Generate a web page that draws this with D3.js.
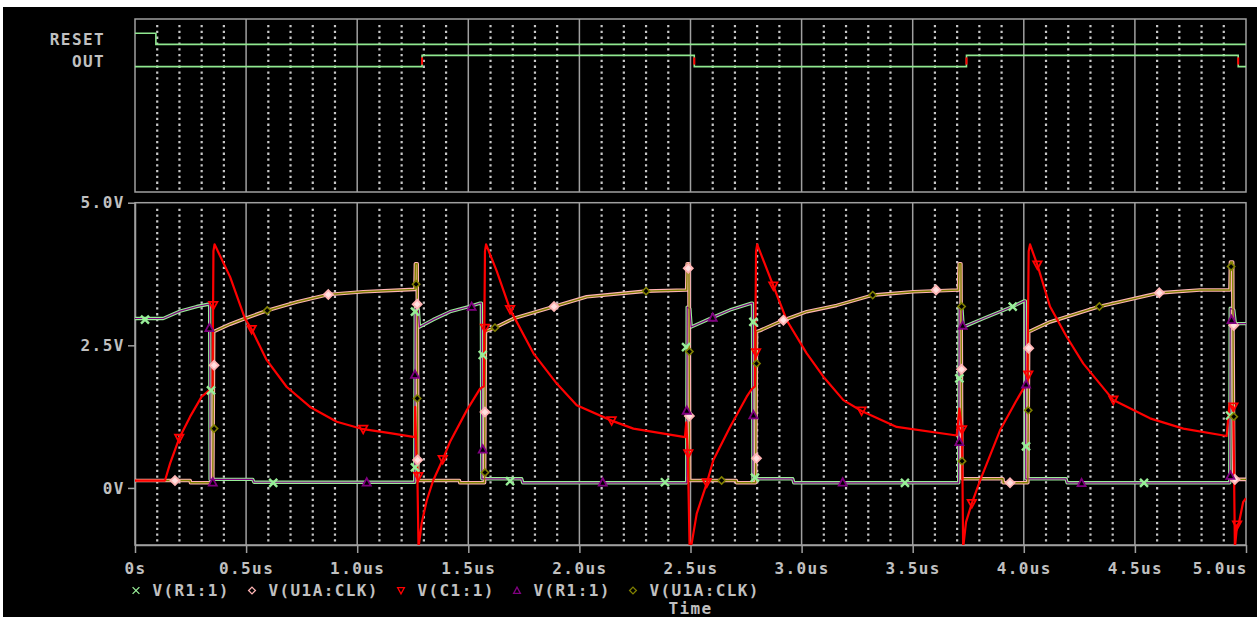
<!DOCTYPE html>
<html><head><meta charset="utf-8">
<script src="https://cdn.jsdelivr.net/npm/d3@7"></script>
<style>
html,body{margin:0;padding:0;background:#fff;}
svg{display:block;}
text{font-family:"DejaVu Sans Mono",monospace;font-weight:bold;font-size:16px;fill:#c0c0c0;letter-spacing:1.4px;}
</style></head><body>
<svg id="c" width="1257" height="617"></svg>
<script>
// ---------------- DATA ----------------
const xTicks = [0, 0.5, 1, 1.5, 2, 2.5, 3, 3.5, 4, 4.5, 5];           // microseconds
const xTickLabels = ["0s","0.5us","1.0us","1.5us","2.0us","2.5us","3.0us","3.5us","4.0us","4.5us","5.0us"];
const yTicks = [0, 2.5, 5];
const yTickLabels = ["0V","2.5V","5.0V"];
const xAxisTitle = "Time";

const digitalNames = ["RESET", "OUT"];
const resetSteps = [[0, 1], [0.094, 0], [5, 0]];
const outSteps = [[0, 0], [1.292, 1], [2.517, 0], [3.742, 1], [4.965, 0], [5, 0]];
const outEdges = [1.292, 2.517, 3.742, 4.965];

const legendLabels = ["V(R1:1)", "V(U1A:CLK)", "V(C1:1)", "V(R1:1)", "V(U1A:CLK)"];

// V(R1:1)  [time us, volts]
const r1Wave = [
 [0,2.97],[0.127,2.97],[0.203,3.10],[0.278,3.18],[0.330,3.22],[0.336,3.22],[0.338,0.15],[0.53,0.15],[0.535,0.10],
 [1.259,0.10],[1.261,3.15],[1.275,3.12],[1.280,2.82],[1.342,2.95],[1.418,3.09],[1.515,3.19],[1.553,3.24],[1.559,3.24],[1.561,0.16],[1.74,0.16],[1.745,0.09],
 [2.483,0.09],[2.485,3.17],[2.497,3.14],[2.503,2.82],[2.600,2.99],[2.678,3.12],[2.775,3.24],[2.779,3.24],[2.781,0.16],[2.96,0.16],[2.965,0.09],
 [3.707,0.09],[3.709,3.15],[3.722,3.12],[3.727,2.82],[3.818,2.97],[3.950,3.18],[4.003,3.28],[4.007,3.28],[4.009,0.16],[4.19,0.16],[4.195,0.09],
 [4.927,0.09],[4.929,3.15],[4.945,3.12],[4.952,2.88],[5.0,2.88]
];
// V(U1A:CLK)
const clkWave = [
 [0,0.13],[0.248,0.13],[0.25,0.09],[0.350,0.09],[0.354,2.74],[0.428,2.87],[0.495,2.97],[0.595,3.11],[0.728,3.26],[0.870,3.39],[1.027,3.44],[1.260,3.48],
 [1.262,3.93],[1.270,3.93],[1.273,0.13],[1.46,0.13],[1.462,0.09],[1.573,0.09],[1.577,2.74],[1.620,2.81],[1.703,2.97],[1.886,3.18],[2.033,3.35],[2.300,3.45],[2.483,3.47],
 [2.485,3.93],[2.493,3.93],[2.496,0.13],[2.706,0.13],[2.708,0.09],[2.793,0.09],[2.797,2.74],[2.813,2.76],[2.918,2.94],[3.023,3.09],[3.158,3.20],[3.320,3.38],[3.503,3.44],[3.706,3.47],
 [3.709,3.93],[3.717,3.93],[3.721,0.16],[3.906,0.16],[3.908,0.09],[4.018,0.09],[4.022,2.74],[4.036,2.76],[4.118,2.91],[4.340,3.18],[4.610,3.42],[4.793,3.47],[4.928,3.47],
 [4.930,3.96],[4.940,3.96],[4.945,0.15],[5.0,0.15]
];
// V(C1:1)
const c1Wave = [
 [0,0.13],[0.135,0.13],[0.158,0.43],[0.199,0.87],[0.248,1.25],[0.300,1.60],[0.334,1.71],[0.349,1.76],[0.353,4.15],[0.358,4.27],
 [0.428,3.70],[0.495,2.97],[0.525,2.78],[0.593,2.24],[0.683,1.77],[0.788,1.42],[0.908,1.16],[1.027,1.03],[1.148,0.96],[1.259,0.89],
 [1.261,1.42],[1.266,0.62],[1.271,0.2],[1.276,-1.05],[1.290,-0.62],[1.313,-0.22],[1.342,0.13],[1.385,0.50],[1.418,0.81],[1.493,1.36],[1.553,1.74],[1.570,1.78],[1.575,4.15],[1.580,4.27],
 [1.628,3.80],[1.688,3.13],[1.793,2.36],[1.898,1.83],[1.988,1.45],[2.145,1.18],[2.243,1.04],[2.475,0.89],
 [2.481,1.15],[2.488,0.60],[2.496,-1.05],[2.505,-0.98],[2.528,-0.45],[2.573,0.08],[2.603,0.49],[2.678,1.07],[2.753,1.60],[2.775,1.73],[2.790,1.78],[2.795,4.15],[2.800,4.27],
 [2.873,3.54],[2.933,2.94],[3.023,2.36],[3.098,1.95],[3.188,1.54],[3.270,1.35],[3.428,1.07],[3.698,0.92],
 [3.710,1.39],[3.722,1.02],[3.727,-1.05],[3.740,-0.6],[3.766,-0.27],[3.803,0.13],[3.893,1.01],[3.968,1.54],[4.010,1.82],[4.016,1.84],[4.022,4.15],[4.028,4.27],
 [4.061,3.91],[4.118,3.18],[4.193,2.65],[4.268,2.18],[4.403,1.54],[4.568,1.22],[4.718,1.04],[4.913,0.91],
 [4.925,1.45],[4.943,1.42],[4.950,-1.05],[4.960,-0.65],[4.968,-0.62],[4.987,-0.25],[5.0,-0.18]
];

// marker positions [time us, volts]
const r1GreenMarks = [[0.045,2.95],[0.342,1.71],[0.622,0.09],[1.260,3.09],[1.260,0.36],[1.565,2.33],[1.688,0.12],[2.385,0.10],[2.480,2.47],
 [2.783,2.91],[2.790,0.18],[3.465,0.09],[3.710,1.92],[3.950,3.18],[4.010,0.73],[4.541,0.09],[4.928,1.27]];
const clkPinkMarks = [[0.180,0.13],[0.356,2.15],[0.870,3.39],[1.270,3.22],[1.272,0.49],[1.575,1.33],[1.886,3.18],[2.490,3.85],[2.495,1.26],
 [2.797,0.52],[2.918,2.94],[3.605,3.47],[3.720,2.08],[3.938,0.09],[4.022,2.45],[4.610,3.42],[4.945,2.85],[4.950,0.15]];
const c1Marks = [[0.199,0.87],[0.352,3.20],[0.525,2.78],[1.027,1.03],[1.275,0.2],[1.385,0.50],[1.575,2.80],[1.688,3.13],[2.145,1.18],[2.490,0.60],
 [2.573,0.09],[2.795,2.37],[2.873,3.54],[3.270,1.35],[3.722,1.02],[3.766,-0.27],[4.020,1.98],[4.061,3.91],[4.403,1.54],[4.943,1.42],[4.960,-0.65]];
const r1PurpleMarks = [[0.335,2.81],[0.350,0.10],[1.043,0.10],[1.260,1.99],[1.515,3.18],[1.565,0.68],[2.105,0.10],[2.483,1.36],
 [2.600,2.99],[2.783,1.28],[3.185,0.10],[3.710,0.81],[3.725,2.85],[4.010,1.82],[4.260,0.09],[4.935,2.95],[4.930,0.22]];
const clkOliveMarks = [[0.356,1.04],[0.595,3.11],[1.265,3.57],[1.270,1.57],[1.575,0.27],[1.620,2.81],[2.300,3.45],[2.495,2.39],
 [2.640,0.13],[2.797,2.18],[3.320,3.38],[3.720,3.18],[3.722,0.47],[4.020,1.36],[4.340,3.18],[4.933,3.88],[4.945,1.25]];

// ---------------- DRAW ----------------
const C = {green:"#98ee98", pink:"#ffb4b4", red:"#ff0000", purple:"#800080", olive:"#808000",
           grid:"#a0a0a0", dot:"#c8c8c8", dig:"#90e890"};
const svg = d3.select("#c");
svg.append("rect").attr("x",3).attr("y",7).attr("width",1254).attr("height",610).attr("fill","#000");

const X0 = 135, X1 = 1246;
const x = d3.scaleLinear([0, 5], [X0, X1]);
const y = d3.scaleLinear([-1, 5], [545, 202.7]);
const yDig = d3.scalePoint(digitalNames, [38.8, 61]);
const DT = 19, DB = 192;
const PT = y(5), PB = y(-1);
const LVL = 5.6;

const minor = x.ticks(50).filter(t => Math.abs(t*2 - Math.round(t*2)) > 1e-6);
const major = xTicks.filter(t => t > 0 && t < 5);

function grid(top, bot) {
  const g = svg.append("g");
  g.selectAll("line.mn").data(minor).join("line")
    .attr("x1", d => x(d)).attr("x2", d => x(d))
    .attr("y1", top + 6).attr("y2", bot - 2)
    .attr("stroke", C.dot).attr("stroke-width", 2.2).attr("stroke-dasharray", "2.3,3.5");
  g.selectAll("line.mj").data(major).join("line")
    .attr("x1", d => x(d)).attr("x2", d => x(d))
    .attr("y1", top).attr("y2", bot)
    .attr("stroke", C.grid).attr("stroke-width", 1.5);
  g.append("rect").attr("x", X0).attr("y", top).attr("width", X1 - X0).attr("height", bot - top)
    .attr("fill", "none").attr("stroke", C.grid).attr("stroke-width", 1.5);
}
grid(DT, DB);
grid(PT, PB);

// axes
const xAxis = d3.axisBottom(x).tickValues(xTicks).tickFormat((d,i) => xTickLabels[i]).tickSize(8).tickSizeOuter(0);
const gx = svg.append("g").attr("transform", `translate(0,${PB})`).call(xAxis);
gx.select(".domain").attr("stroke", C.grid).attr("stroke-width", 1.5);
gx.selectAll(".tick line").attr("stroke", C.grid).attr("stroke-width", 1.5);
gx.selectAll(".tick text").attr("y", 28.5).attr("dy", 0);
gx.selectAll(".tick text").filter(d => d === 5).attr("text-anchor", "end").attr("x", 1.4);

const yAxis = d3.axisLeft(y).tickValues(yTicks).tickFormat((d,i) => yTickLabels[i]).tickSize(7).tickSizeOuter(0).tickPadding(3.3);
const gy = svg.append("g").attr("transform", `translate(${X0},0)`).call(yAxis);
gy.select(".domain").attr("stroke", C.grid).attr("stroke-width", 1.5);
gy.selectAll(".tick line").attr("stroke", C.grid).attr("stroke-width", 1.5);

// digital panel
svg.append("g").selectAll("text").data(digitalNames).join("text")
  .attr("x", 105).attr("y", d => yDig(d) + 6).attr("text-anchor", "end").text(d => d);
const digLine = (name) => d3.line().curve(d3.curveStepAfter)
  .x(d => x(d[0])).y(d => yDig(name) + (d[1] ? -LVL : LVL));
svg.append("path").datum(resetSteps).attr("d", digLine("RESET"))
  .attr("fill", "none").attr("stroke", C.dig).attr("stroke-width", 1.6);
svg.append("path").datum(outSteps).attr("d", digLine("OUT"))
  .attr("fill", "none").attr("stroke", C.dig).attr("stroke-width", 1.6);
svg.append("g").selectAll("line").data(outEdges).join("line")
  .attr("x1", d => x(d)).attr("x2", d => x(d))
  .attr("y1", yDig("OUT") - LVL + 2).attr("y2", yDig("OUT") + LVL - 2)
  .attr("stroke", C.red).attr("stroke-width", 2);

// analog traces
svg.append("clipPath").attr("id", "clip").append("rect")
  .attr("x", X0).attr("y", PT).attr("width", X1 - X0).attr("height", PB - PT);
const plot = svg.append("g").attr("clip-path", "url(#clip)");
const line = d3.line().x(d => x(d[0])).y(d => y(d[1]));
function trace(data, color, w) {
  plot.append("path").datum(data).attr("d", line).attr("fill", "none")
    .attr("stroke", color).attr("stroke-width", w).attr("stroke-linejoin", "round");
}
trace(r1Wave, C.green, 3.4);
trace(clkWave, C.pink, 3.6);
trace(r1Wave, C.purple, 1.2);
trace(clkWave, C.olive, 1.4);
trace(c1Wave, C.red, 2.2);

// markers
const shapes = {
  cross: s => `M${-s},${-s}L${s},${s}M${s},${-s}L${-s},${s}`,
  diamond: s => `M0,${-s}L${s},0L0,${s}L${-s},0Z`,
  triDown: s => `M${-s},${-s*0.85}L${s},${-s*0.85}L0,${s}Z`,
  triUp: s => `M${-s},${s*0.85}L${s},${s*0.85}L0,${-s}Z`
};
function marks(data, shape, size, color, w, fill) {
  plot.append("g").selectAll("path").data(data).join("path")
    .attr("transform", d => `translate(${x(d[0])},${y(d[1])})`)
    .attr("d", shapes[shape](size)).attr("fill", fill).attr("stroke", color).attr("stroke-width", w);
}
marks(r1GreenMarks, "cross", 4, C.green, 2.4, "none");
marks(clkPinkMarks, "diamond", 4.5, C.pink, 1.8, "#ffe0e0");
marks(c1Marks, "triDown", 4.2, C.red, 1.8, "none");
marks(r1PurpleMarks, "triUp", 4, C.purple, 1.8, "#000");
marks(clkOliveMarks, "diamond", 3.6, C.olive, 1.6, "#000");

// legend
const legShapes = ["cross", "diamond", "triDown", "triUp", "diamond"];
const legColors = [C.green, C.pink, C.red, C.purple, C.olive];
const lg = svg.append("g");
let mx = 136;
legendLabels.forEach((lab, i) => {
  lg.append("path").attr("transform", `translate(${mx},590.5)`)
    .attr("d", shapes[legShapes[i]](3.4)).attr("fill", "none")
    .attr("stroke", legColors[i]).attr("stroke-width", 1.3);
  lg.append("text").attr("x", mx + 16.5).attr("y", 595.7).text(lab);
  mx = mx + 16.5 + lab.length * 11 + 22.5;
});
svg.append("text").attr("x", 690.5).attr("y", 613.5).attr("text-anchor", "middle").text(xAxisTitle);
</script>
</body></html>
